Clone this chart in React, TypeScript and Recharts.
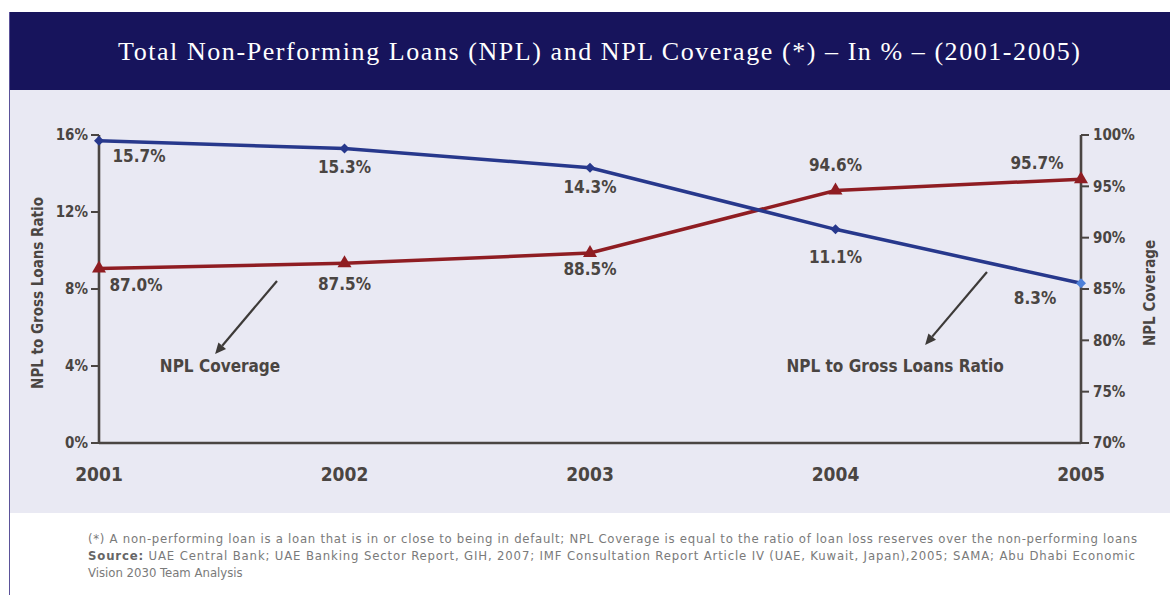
import React from 'react';
import { LineChart, Line, XAxis, YAxis, LabelList, ReferenceLine, ReferenceDot } from 'recharts';

// values
const years = [2001, 2002, 2003, 2004, 2005];
const nplRatio = [15.7, 15.3, 14.3, 11.1, 8.3];
const nplCoverage = [87.0, 87.5, 88.5, 94.6, 95.7];
const ratioTicks = [0, 4, 8, 12, 16];
const coverageTicks = [70, 75, 80, 85, 90, 95, 100];

// arrow annotations, in data units (x = year, y = left axis %)
const annotations = [
  { text: 'NPL Coverage', from: [2001.725, 8.42], to: [2001.473, 4.62], at: [2001.493, 4.0] },
  { text: 'NPL to Gross Loans Ratio', from: [2004.617, 8.88], to: [2004.365, 5.09], at: [2004.243, 4.0] },
];

const data = years.map((year, i) => ({ year, ratio: nplRatio[i], coverage: nplCoverage[i] }));

const FONT = "'DejaVu Sans Condensed', 'Liberation Sans Narrow', 'DejaVu Sans', sans-serif";
const INK = '#4a4542';
const BLUE = '#27388c';
const RED = '#8f1d22';

// label nudges (px) relative to each point
const ratioShift = [[40, 15], [0, 19], [0, 19], [0, 28], [-46, 15]];
const coverageShift = [[37, 17], [0, 21], [0, 16], [0, -25], [-44, -16]];

const makeLabel = (shift: number[][]) => (props: any) => {
  const { x, y, value, index } = props;
  const [dx, dy] = shift[index] || [0, 0];
  return (
    <text x={x + dx} y={y + dy} textAnchor="middle" dominantBaseline="central"
      fill={INK} fontFamily={FONT} fontWeight="bold" fontSize={17}>
      {Number(value).toFixed(1)}%
    </text>
  );
};

const Diamond = (props: any) => {
  const { cx, cy, index } = props;
  if (cx == null || cy == null) return null;
  const c = index === years.length - 1 ? '#4d80d8' : BLUE;
  const r = 5;
  return <polygon points={`${cx},${cy - r} ${cx + r},${cy} ${cx},${cy + r} ${cx - r},${cy}`} fill={c} />;
};

const Triangle = (props: any) => {
  const { cx, cy } = props;
  if (cx == null || cy == null) return null;
  return <polygon points={`${cx},${cy - 8} ${cx + 7},${cy + 4} ${cx - 7},${cy + 4}`} fill={RED} />;
};

const ArrowShape = (props: any) => {
  const { x1, y1, x2, y2 } = props;
  if ([x1, y1, x2, y2].some((v) => v == null || isNaN(v))) return null;
  const ang = Math.atan2(y2 - y1, x2 - x1);
  const len = 11;
  const w = 5;
  const bx = x2 - len * Math.cos(ang);
  const by = y2 - len * Math.sin(ang);
  const px = -Math.sin(ang) * w;
  const py = Math.cos(ang) * w;
  return (
    <g>
      <line x1={x1} y1={y1} x2={bx} y2={by} stroke="#3d3a38" strokeWidth={2.2} />
      <polygon points={`${x2},${y2} ${bx + px},${by + py} ${bx - px},${by - py}`} fill="#3d3a38" />
    </g>
  );
};

const AxisTitle = ({ text, side }: { text: string; side: 'left' | 'right' }) => (props: any) => {
  const vb = props.viewBox || {};
  const cx = side === 'left' ? vb.x - 1 : vb.x + vb.width + 9;
  const cy = vb.y + vb.height / 2 + 4;
  return (
    <text x={cx} y={cy} transform={`rotate(-90, ${cx}, ${cy})`} textAnchor="middle" dominantBaseline="central"
      fill={INK} fontFamily={FONT} fontWeight="bold" fontSize={15}>
      {text}
    </text>
  );
};

const XTick = (props: any) => {
  const { x, y, payload } = props;
  return (
    <text x={x} y={y} textAnchor="middle" dominantBaseline="central"
      fill={INK} fontFamily={FONT} fontWeight="bold" fontSize={19}>
      {payload.value}
    </text>
  );
};

const tickStyle = { fill: INK, fontFamily: FONT, fontWeight: 'bold', fontSize: 15 };

export default function App() {
  return (
    <div style={{ position: 'absolute', left: 0, top: 0, width: 1170, height: 595, background: '#fff', overflow: 'hidden' }}>
      <div style={{ position: 'absolute', left: 9, top: 12, width: 1, height: 583, background: '#5b5299' }} />
      <div style={{ position: 'absolute', left: 10, top: 12, width: 1160, height: 78, background: '#17145c' }}>
        <svg width={1160} height={78}>
          <text x={589} y={39} textAnchor="middle" dominantBaseline="central" fill="#fff"
            fontFamily="'Liberation Serif', serif" fontSize={26} textLength={962} lengthAdjust="spacing">
            Total Non-Performing Loans (NPL) and NPL Coverage (*) – In % – (2001-2005)
          </text>
        </svg>
      </div>
      <div style={{ position: 'absolute', left: 10, top: 90, width: 1160, height: 423, background: '#e9e9f3' }}>
        <LineChart width={1160} height={423} data={data} margin={{ top: 45, right: 29, bottom: 40, left: 29 }}>
          <XAxis dataKey="year" type="number" domain={[2001, 2005]} ticks={years} allowDecimals={false}
            axisLine={{ stroke: INK, strokeWidth: 2.6 }} tickLine={false} tickSize={0} tickMargin={31}
            height={30} tick={<XTick />} />
          <YAxis yAxisId="left" orientation="left" domain={[0, 16]} ticks={ratioTicks} width={60}
            tickFormatter={(v) => `${v}%`} tick={tickStyle}
            axisLine={{ stroke: INK, strokeWidth: 2.6 }} tickLine={{ stroke: INK, strokeWidth: 2 }}
            tickSize={8} tickMargin={3}
            label={{ content: AxisTitle({ text: 'NPL to Gross Loans Ratio', side: 'left' }) }} />
          <YAxis yAxisId="right" orientation="right" domain={[70, 100]} ticks={coverageTicks} width={60}
            tickFormatter={(v) => `${v}%`} tick={tickStyle}
            axisLine={{ stroke: INK, strokeWidth: 2.6 }} tickLine={{ stroke: INK, strokeWidth: 2 }}
            tickSize={8} tickMargin={4}
            label={{ content: AxisTitle({ text: 'NPL Coverage', side: 'right' }) }} />
          {annotations.map((a) => (
            <ReferenceLine key={`arr-${a.text}`} yAxisId="left" ifOverflow="visible"
              segment={[{ x: a.from[0], y: a.from[1] }, { x: a.to[0], y: a.to[1] }]}
              shape={ArrowShape} />
          ))}
          {annotations.map((a) => (
            <ReferenceDot key={`txt-${a.text}`} yAxisId="left" x={a.at[0]} y={a.at[1]} ifOverflow="visible"
              shape={(p: any) => (
                <text x={p.cx} y={p.cy} textAnchor="middle" dominantBaseline="central"
                  fill={INK} fontFamily={FONT} fontWeight="bold" fontSize={17}>
                  {a.text}
                </text>
              )} />
          ))}
          <Line yAxisId="right" dataKey="coverage" type="linear" stroke={RED} strokeWidth={3.5}
            dot={<Triangle />} activeDot={false} isAnimationActive={false}>
            <LabelList dataKey="coverage" content={makeLabel(coverageShift)} />
          </Line>
          <Line yAxisId="left" dataKey="ratio" type="linear" stroke={BLUE} strokeWidth={3.5}
            dot={<Diamond />} activeDot={false} isAnimationActive={false}>
            <LabelList dataKey="ratio" content={makeLabel(ratioShift)} />
          </Line>
        </LineChart>
      </div>
      <svg style={{ position: 'absolute', left: 0, top: 513 }} width={1170} height={82}>
        <text x={88} y={25} dominantBaseline="central" fill="#7a7a7a" fontFamily={FONT} fontSize={13}
          textLength={1049} lengthAdjust="spacing">
          (*)  A non-performing loan is a loan that is in or close to being in default; NPL Coverage is equal to the ratio of loan loss reserves over the non-performing loans
        </text>
        <text x={88} y={42} dominantBaseline="central" fill="#7a7a7a" fontFamily={FONT} fontSize={13}
          textLength={1047} lengthAdjust="spacing">
          <tspan fontWeight="bold" fill="#666">Source:</tspan>
          <tspan>  UAE Central Bank; UAE Banking Sector Report, GIH, 2007; IMF Consultation Report Article IV  (UAE, Kuwait, Japan),2005; SAMA; Abu Dhabi Economic</tspan>
        </text>
        <text x={88} y={59} dominantBaseline="central" fill="#7a7a7a" fontFamily={FONT} fontSize={13}>
          Vision 2030 Team Analysis
        </text>
      </svg>
    </div>
  );
}
